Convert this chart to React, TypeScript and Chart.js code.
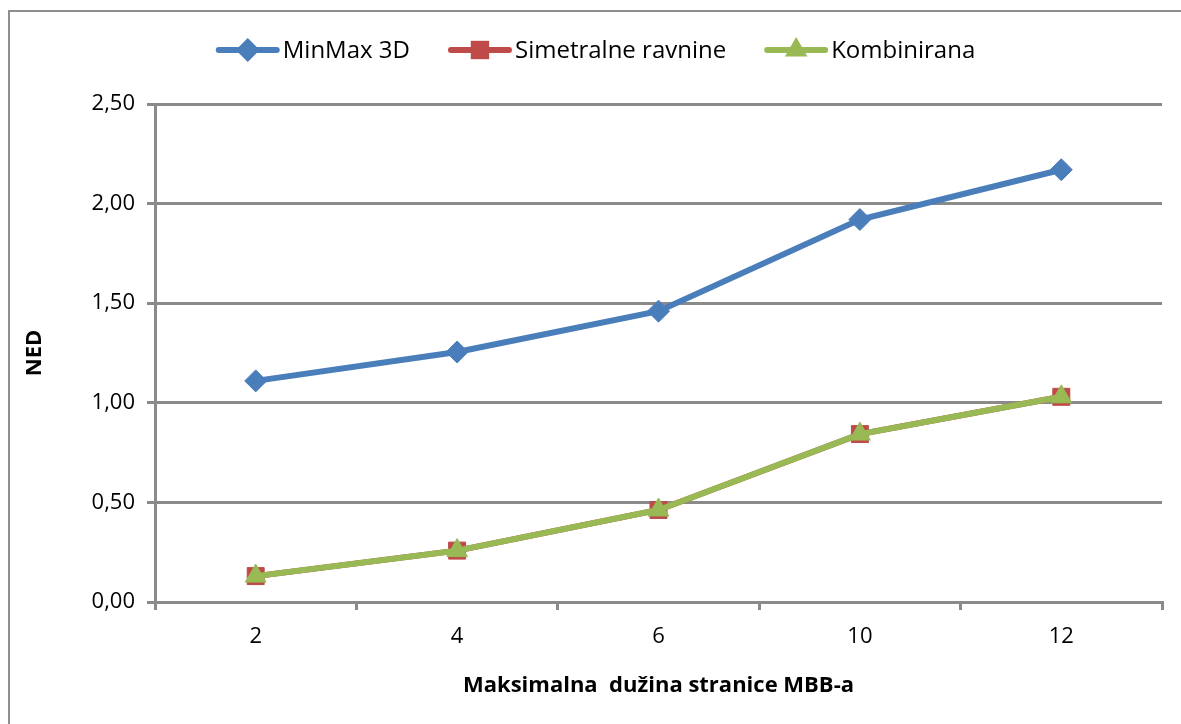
import React, { useEffect, useRef } from "react";
import { Chart, registerables } from "chart.js";

Chart.register(...registerables);

const categories = ["2", "4", "6", "10", "12"];
const minMax3D = [1.11, 1.255, 1.46, 1.92, 2.17];
const simetralne = [0.13, 0.258, 0.462, 0.843, 1.03];
const kombinirana = [0.13, 0.258, 0.462, 0.843, 1.03];
const seriesNames = ["MinMax 3D", "Simetralne ravnine", "Kombinirana"];
const yTicks = [0, 0.5, 1, 1.5, 2, 2.5];
const xTitle = "Maksimalna  dužina stranice MBB-a";
const yTitle = "NED";

const BLUE = "#4a7ebb";
const RED = "#be4b48";
const GREEN = "#98b954";
const GRID = "#8a8a8a";
const FONT = "'Open Sans', 'DejaVu Sans', sans-serif";

function drawMarker(ctx: CanvasRenderingContext2D, style: string, x: number, y: number, r: number, color: string) {
  ctx.save();
  ctx.fillStyle = color;
  ctx.beginPath();
  if (style === "rectRot") {
    ctx.moveTo(x - r, y);
    ctx.lineTo(x, y - r);
    ctx.lineTo(x + r, y);
    ctx.lineTo(x, y + r);
  } else if (style === "rect") {
    const s = Math.SQRT1_2 * r;
    ctx.rect(x - s, y - s, 2 * s, 2 * s);
  } else {
    ctx.moveTo(x, y - r);
    ctx.lineTo(x + Math.sin((2 * Math.PI) / 3) * r, y + r / 2);
    ctx.lineTo(x - Math.sin((2 * Math.PI) / 3) * r, y + r / 2);
  }
  ctx.closePath();
  ctx.fill();
  ctx.restore();
}

const legendPlugin = {
  id: "customLegend",
  afterDraw(chart: any) {
    const ctx: CanvasRenderingContext2D = chart.ctx;
    const items = [
      { text: seriesNames[0], color: BLUE, style: "rectRot", r: 12 },
      { text: seriesNames[1], color: RED, style: "rect", r: 13 },
      { text: seriesNames[2], color: GREEN, style: "triangle", r: 13 },
    ];
    ctx.save();
    ctx.font = `24px ${FONT}`;
    const lineW = 64;
    const gapText = 3;
    const gapItem = 38;
    const widths = items.map((it) => lineW + gapText + ctx.measureText(it.text).width);
    const total = widths.reduce((a, b) => a + b, 0) + gapItem * (items.length - 1);
    let x = (chart.width - total) / 2;
    const cy = 38;
    items.forEach((it, i) => {
      ctx.strokeStyle = it.color;
      ctx.lineWidth = 6;
      ctx.lineCap = "round";
      ctx.beginPath();
      ctx.moveTo(x + 3, cy);
      ctx.lineTo(x + lineW - 3, cy);
      ctx.stroke();
      drawMarker(ctx, it.style, x + lineW / 2, cy, it.r, it.color);
      ctx.fillStyle = "#000";
      ctx.textBaseline = "middle";
      ctx.textAlign = "left";
      ctx.fillText(it.text, x + lineW + gapText, cy + 1);
      x += widths[i] + gapItem;
    });
    ctx.restore();
  },
};

export default function App() {
  const ref = useRef<HTMLCanvasElement | null>(null);
  useEffect(() => {
    if (!ref.current) return;
    const chart = new Chart(ref.current, {
      type: "line",
      data: {
        labels: categories,
        datasets: [
          {
            label: seriesNames[0],
            data: minMax3D,
            borderColor: BLUE,
            backgroundColor: BLUE,
            borderWidth: 6,
            pointStyle: "rectRot",
            pointRadius: 11,
            pointBorderWidth: 1,
            pointBorderColor: BLUE,
            pointBackgroundColor: BLUE,
            order: 2,
          },
          {
            label: seriesNames[1],
            data: simetralne,
            borderColor: RED,
            backgroundColor: RED,
            borderWidth: 6,
            pointStyle: "rect",
            pointRadius: 12,
            pointBorderWidth: 1,
            pointBorderColor: RED,
            pointBackgroundColor: RED,
            order: 1,
          },
          {
            label: seriesNames[2],
            data: kombinirana,
            borderColor: GREEN,
            backgroundColor: GREEN,
            borderWidth: 6,
            pointStyle: "triangle",
            pointRadius: 12,
            pointBorderWidth: 1,
            pointBorderColor: GREEN,
            pointBackgroundColor: GREEN,
            order: 0,
          },
        ],
      },
      options: {
        animation: false,
        responsive: true,
        maintainAspectRatio: false,
        layout: { padding: { top: 92, right: 19, left: 0, bottom: 0 } },
        plugins: {
          legend: { display: false },
          tooltip: { enabled: false },
        },
        scales: {
          x: {
            type: "category",
            offset: true,
            grid: {
              offset: true,
              drawOnChartArea: false,
              drawTicks: true,
              tickLength: 8,
              color: GRID,
              lineWidth: 3,
            },
            border: { display: true, color: GRID, width: 3 },
            ticks: {
              color: "#000",
              font: { family: FONT, size: 22 },
              padding: 14,
              maxRotation: 0,
            },
            title: {
              display: true,
              text: xTitle,
              color: "#000",
              font: { family: FONT, size: 22, weight: "bold" },
              padding: { top: 0, bottom: 25 },
            },
            afterFit: (scale: any) => {
              scale.height = 122;
            },
          },
          y: {
            min: 0,
            max: 2.5,
            afterBuildTicks: (scale: any) => {
              scale.ticks = yTicks.map((v) => ({ value: v }));
            },
            grid: {
              color: GRID,
              lineWidth: 3,
              tickLength: 8,
            },
            border: { display: true, color: GRID, width: 3 },
            ticks: {
              color: "#000",
              font: { family: FONT, size: 22 },
              padding: 12,
              callback: (v: any) => Number(v).toFixed(2).replace(".", ","),
            },
            title: {
              display: true,
              text: yTitle,
              color: "#000",
              font: { family: FONT, size: 22, weight: "bold" },
              padding: { top: 12, bottom: 0 },
            },
            afterFit: (scale: any) => {
              scale.width = 145;
            },
          },
        },
      },
      plugins: [legendPlugin],
    } as any);
    return () => chart.destroy();
  }, []);

  return (
    <div
      style={{
        position: "fixed",
        left: 8,
        top: 10,
        width: 1173,
        height: 714,
        borderTop: "2px solid #8e8e8e",
        borderLeft: "2px solid #8e8e8e",
        boxSizing: "border-box",
        background: "#fff",
      }}
    >
      <div style={{ position: "relative", width: 1171, height: 712 }}>
        <canvas ref={ref} />
      </div>
    </div>
  );
}
